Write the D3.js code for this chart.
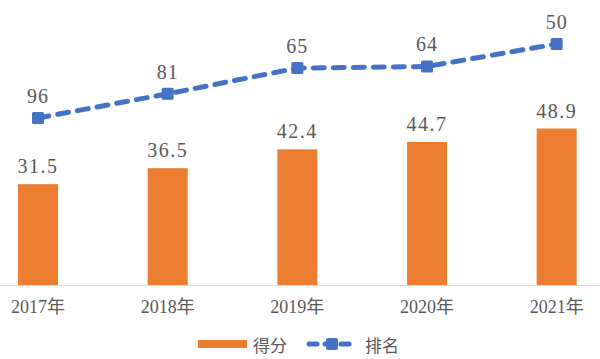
<!DOCTYPE html>
<html><head><meta charset="utf-8">
<script src="https://cdn.jsdelivr.net/npm/d3@7"></script>
<style>body{margin:0;background:#fff}</style>
</head><body>
<svg id="c" width="600" height="359"></svg>
<script>
const years = ["2017年","2018年","2019年","2020年","2021年"];
const scores = [31.5, 36.5, 42.4, 44.7, 48.9];
const ranks = [96, 81, 65, 64, 50];
const scoreLabels = ["31.5","36.5","42.4","44.7","48.9"];

const svg = d3.select("#c");
const W = 600, H = 359;
const baseY = 285;
const font = "'Liberation Serif','Noto Sans CJK SC',serif";
const labelColor = "#595959";

const x = d3.scaleBand().domain(years).range([-26.8, 621.5]).paddingInner(0).paddingOuter(0);
const yS = d3.scaleLinear().domain([0, 80]).range([baseY, 29]);
const yR = d3.scaleLinear().domain([0, 200]).range([-36.5, 285.3]);
const cx = d => x(d) + x.bandwidth() / 2;
const barW = 40;

// axis line
svg.append("line").attr("x1", 0).attr("x2", W).attr("y1", baseY + 0.5).attr("y2", baseY + 0.5)
  .attr("stroke", "#d9d9d9").attr("stroke-width", 1);

// bars
svg.selectAll("rect.bar").data(years).enter().append("rect")
  .attr("class", "bar")
  .attr("x", d => cx(d) - barW / 2)
  .attr("width", barW)
  .attr("y", (d, i) => yS(scores[i]))
  .attr("height", (d, i) => baseY - yS(scores[i]))
  .attr("fill", "#ED7D31");

// bar labels
svg.selectAll("text.bl").data(years).enter().append("text")
  .attr("x", d => cx(d)).attr("y", (d, i) => yS(scores[i]) - 11)
  .attr("text-anchor", "middle").attr("font-family", font).attr("font-size", 20)
  .attr("letter-spacing", 1.5)
  .attr("fill", labelColor).text((d, i) => scoreLabels[i]);

// line
const line = d3.line().x(d => cx(d)).y((d, i) => yR(ranks[i]));
svg.append("path").datum(years).attr("d", line)
  .attr("fill", "none").attr("stroke", "#4472C4").attr("stroke-width", 5)
  .attr("stroke-dasharray", "11,9").attr("stroke-linecap", "round");

svg.selectAll("rect.mk").data(years).enter().append("rect")
  .attr("x", d => cx(d) - 6).attr("y", (d, i) => yR(ranks[i]) - 6)
  .attr("width", 12).attr("height", 12).attr("rx", 1.5)
  .attr("fill", "#4472C4");

svg.selectAll("text.ll").data(years).enter().append("text")
  .attr("x", d => cx(d)).attr("y", (d, i) => yR(ranks[i]) - 15)
  .attr("text-anchor", "middle").attr("font-family", font).attr("font-size", 20)
  .attr("letter-spacing", 1)
  .attr("fill", labelColor).text((d, i) => ranks[i]);

// x labels
svg.selectAll("text.xl").data(years).enter().append("text")
  .attr("x", d => cx(d)).attr("y", 313)
  .attr("text-anchor", "middle").attr("font-family", font).attr("font-size", 18)
  .attr("fill", labelColor).text(d => d);

// legend
const lg = svg.append("g");
lg.append("rect").attr("x", 198).attr("y", 340).attr("width", 49).attr("height", 8).attr("fill", "#ED7D31");
lg.append("text").attr("x", 253).attr("y", 352).attr("font-family", font).attr("font-size", 17)
  .attr("fill", labelColor).text("得分");
lg.append("line").attr("x1", 309).attr("x2", 356).attr("y1", 344).attr("y2", 344)
  .attr("stroke", "#4472C4").attr("stroke-width", 5).attr("stroke-dasharray", "8,8").attr("stroke-linecap", "round");
lg.append("rect").attr("x", 326).attr("y", 338).attr("width", 12).attr("height", 12).attr("rx", 2).attr("fill", "#4472C4");
lg.append("text").attr("x", 365).attr("y", 352).attr("font-family", font).attr("font-size", 17)
  .attr("fill", labelColor).text("排名");
</script>
</body></html>
